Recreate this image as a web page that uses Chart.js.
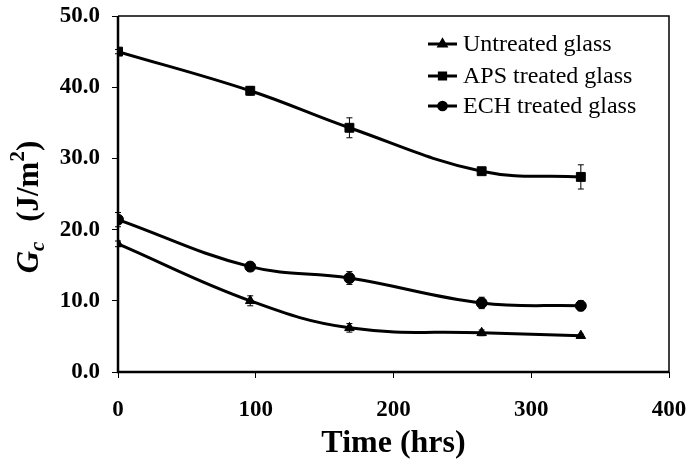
<!DOCTYPE html>
<html>
<head>
<meta charset="utf-8">
<script src="https://cdn.jsdelivr.net/npm/chart.js@4/dist/chart.umd.min.js"></script>
<style>
  html, body { margin: 0; padding: 0; background: #fff; }
  #wrap { width: 687px; height: 465px; }
</style>
</head>
<body>
<div id="wrap"><canvas id="gcChart"></canvas></div>
<script>
const timeHrs = [0, 96, 168, 264, 336];

const untreated = [18.0, 10.0, 6.2, 5.5, 5.1];
const untreatedErr = [0.4, 0.7, 0.6, 0.4, 0.2];

const apsTreated = [45.0, 39.5, 34.3, 28.2, 27.4];
const apsErr = [0.3, 0.6, 1.4, 0.4, 1.7];

const echTreated = [21.4, 14.8, 13.2, 9.7, 9.3];
const echErr = [1.0, 0.6, 0.9, 0.8, 0.7];

const seriesNames = ['Untreated glass', 'APS treated glass', 'ECH treated glass'];
const xTitle = 'Time (hrs)';
const yTicks = [0, 10, 20, 30, 40, 50];
const xTicks = [0, 100, 200, 300, 400];

const serif = "'Liberation Serif', 'Times New Roman', serif";

const toPoints = (xs, ys, errs) => xs.map((x, i) => ({ x: x, y: ys[i], err: errs[i] }));

// error bars, drawn through the scales
const errorBars = {
    id: 'errorBars',
    afterDatasetsDraw(chart) {
        const ctx = chart.ctx;
        const ys = chart.scales.y;
        ctx.save();
        ctx.strokeStyle = '#000';
        ctx.lineWidth = 1;
        chart.data.datasets.forEach((ds, di) => {
            const meta = chart.getDatasetMeta(di);
            meta.data.forEach((pt, i) => {
                const d = ds.data[i];
                if (!d.err) return;
                const top = ys.getPixelForValue(d.y + d.err);
                const bot = ys.getPixelForValue(d.y - d.err);
                ctx.beginPath();
                ctx.moveTo(pt.x, top); ctx.lineTo(pt.x, bot);
                ctx.moveTo(pt.x - 3, top); ctx.lineTo(pt.x + 3, top);
                ctx.moveTo(pt.x - 3, bot); ctx.lineTo(pt.x + 3, bot);
                ctx.stroke();
            });
        });
        ctx.restore();
    }
};

// frame, y title with sub/superscript, legend inside the plot
const decorations = {
    id: 'decorations',
    afterDraw(chart) {
        const ctx = chart.ctx;
        const a = chart.chartArea;
        ctx.save();
        ctx.strokeStyle = '#000';
        ctx.lineWidth = 1.5;
        ctx.beginPath();
        ctx.moveTo(a.left, a.top); ctx.lineTo(a.right, a.top); ctx.lineTo(a.right, a.bottom);
        ctx.stroke();
        ctx.lineWidth = 2.5;
        ctx.beginPath();
        ctx.moveTo(a.left, a.top); ctx.lineTo(a.left, a.bottom); ctx.lineTo(a.right, a.bottom);
        ctx.stroke();

        // y title: Gc (J/m2)
        const parts = [
            { t: 'G', f: 'italic bold 31px ' + serif, dy: 0, gap: 0 },
            { t: 'c', f: 'italic bold 21px ' + serif, dy: 6, gap: 12 },
            { t: ' (J/m', f: 'bold 31px ' + serif, dy: 0, gap: 0 },
            { t: '2', f: 'bold 21px ' + serif, dy: -14, gap: 0 },
            { t: ')', f: 'bold 31px ' + serif, dy: 0, gap: 0 }
        ];
        let total = 0;
        parts.forEach(p => { ctx.font = p.f; p.w = ctx.measureText(p.t).width + p.gap; total += p.w; });
        ctx.translate(38, 207);
        ctx.rotate(-Math.PI / 2);
        ctx.fillStyle = '#000';
        ctx.textBaseline = 'alphabetic';
        let cx = -total / 2;
        parts.forEach(p => { ctx.font = p.f; ctx.fillText(p.t, cx, p.dy); cx += p.w; });
        ctx.setTransform(1, 0, 0, 1, 0, 0);

        // legend
        const rowY = [44, 76, 106];
        chart.data.datasets.forEach((ds, i) => {
            const y = rowY[i];
            ctx.lineWidth = 3;
            ctx.beginPath();
            ctx.moveTo(428, y); ctx.lineTo(457, y);
            ctx.stroke();
            ctx.fillStyle = '#000';
            Chart.helpers.drawPoint(ctx, { pointStyle: ds.pointStyle, radius: ds.pointRadius * 0.7, rotation: 0, borderWidth: 1 }, 442.5, y);
            ctx.font = '24px ' + serif;
            ctx.textBaseline = 'middle';
            ctx.textAlign = 'left';
            ctx.fillText(ds.label, 463, y + 1);
        });
        ctx.restore();
    }
};

const baseSet = {
    borderColor: '#000',
    backgroundColor: '#000',
    pointBackgroundColor: '#000',
    pointBorderColor: '#000',
    borderWidth: 3,
    tension: 0.4,
    pointBorderWidth: 1,
    pointHoverRadius: 5
};

new Chart(document.getElementById('gcChart'), {
    type: 'line',
    data: {
        datasets: [
            Object.assign({}, baseSet, { label: seriesNames[0], data: toPoints(timeHrs, untreated, untreatedErr), pointStyle: 'triangle', pointRadius: 5.5 }),
            Object.assign({}, baseSet, { label: seriesNames[1], data: toPoints(timeHrs, apsTreated, apsErr), pointStyle: 'rect', pointRadius: 6.3 }),
            Object.assign({}, baseSet, { label: seriesNames[2], data: toPoints(timeHrs, echTreated, echErr), pointStyle: 'circle', pointRadius: 5.5 })
        ]
    },
    options: {
        responsive: true,
        maintainAspectRatio: false,
        animation: false,
        layout: { padding: 0 },
        plugins: {
            legend: { display: false },
            tooltip: { enabled: false }
        },
        scales: {
            x: {
                type: 'linear',
                min: 0,
                max: 400,
                afterBuildTicks: s => { s.ticks = xTicks.map(v => ({ value: v })); },
                afterFit: s => { s.height = 93; s.paddingLeft = 0; s.paddingRight = 18; },
                border: { display: false },
                grid: { drawOnChartArea: false, drawTicks: true, tickLength: 6, color: '#000', lineWidth: 1 },
                ticks: { color: '#000', font: { family: serif, size: 23, weight: 'bold' }, padding: 18, maxRotation: 0 },
                title: { display: true, text: xTitle, color: '#000', font: { family: serif, size: 32, weight: 'bold' }, padding: { top: 4, bottom: 2 } }
            },
            y: {
                min: 0,
                max: 50,
                afterBuildTicks: s => { s.ticks = yTicks.map(v => ({ value: v })); },
                afterFit: s => { s.width = 118; s.paddingTop = 16; s.paddingBottom = 0; },
                border: { display: false },
                grid: { drawOnChartArea: false, drawTicks: true, tickLength: 6, color: '#000', lineWidth: 1 },
                ticks: { color: '#000', font: { family: serif, size: 23, weight: 'bold' }, padding: 12, callback: v => v.toFixed(1) }
            }
        }
    },
    plugins: [errorBars, decorations]
});
</script>
</body>
</html>
